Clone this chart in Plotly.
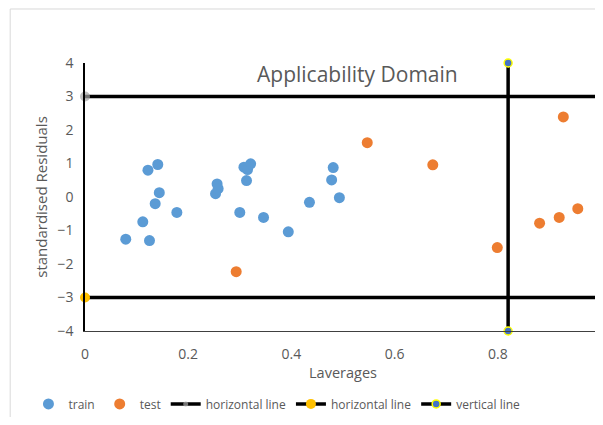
import plotly.graph_objects as go

train_x = [0.079, 0.112, 0.125, 0.136, 0.144, 0.178, 0.253, 0.300, 0.346, 0.394,
           0.122, 0.141, 0.256, 0.258, 0.308, 0.315, 0.321, 0.313, 0.481, 0.478,
           0.493, 0.435]
train_y = [-1.26, -0.74, -1.30, -0.20, 0.13, -0.46, 0.10, -0.46, -0.61, -1.04,
           0.80, 0.97, 0.39, 0.25, 0.89, 0.82, 0.99, 0.49, 0.88, 0.51,
           -0.02, -0.16]

test_x = [0.293, 0.547, 0.674, 0.927, 0.799, 0.881, 0.919, 0.955]
test_y = [-2.23, 1.62, 0.96, 2.39, -1.51, -0.78, -0.61, -0.35]

h_upper_x = [0, 1]
h_upper_y = [3, 3]
h_lower_x = [0, 1]
h_lower_y = [-3, -3]
v_x = [0.82, 0.82]
v_y = [4, -4]

grey_text = "#595959"
font_family = "Open Sans, Liberation Sans, Arial"

fig = go.Figure()
fig.add_trace(go.Scatter(x=train_x, y=train_y, mode="markers", name="train",
                         marker=dict(color="#5B9BD5", size=11, line=dict(width=0))))
fig.add_trace(go.Scatter(x=test_x, y=test_y, mode="markers", name="test",
                         marker=dict(color="#ED7D31", size=11, line=dict(width=0))))
fig.add_trace(go.Scatter(x=h_upper_x, y=h_upper_y, mode="lines+markers", name="horizontal line",
                         line=dict(color="black", width=3.5),
                         marker=dict(color="#A5A5A5", size=[10, 0], line=dict(width=0)), cliponaxis=False))
fig.add_trace(go.Scatter(x=h_lower_x, y=h_lower_y, mode="lines+markers", name="horizontal line",
                         line=dict(color="black", width=3.5),
                         marker=dict(color="#FFC000", size=10, line=dict(width=0)), cliponaxis=False))
fig.add_trace(go.Scatter(x=v_x, y=v_y, mode="lines+markers", name="vertical line",
                         line=dict(color="black", width=3.5),
                         marker=dict(color="#4472C4", size=8, line=dict(color="#FFFF00", width=1.5)),
                         cliponaxis=False))

fig.update_layout(
    width=595, height=409,
    margin=dict(l=77, r=2, t=55, b=86, autoexpand=False),
    paper_bgcolor="white", plot_bgcolor="white",
    font=dict(family=font_family, color=grey_text, size=13),
    showlegend=True,
    legend=dict(orientation="h", x=0.372, xanchor="center", y=-0.272, yanchor="middle",
                font=dict(size=12, color=grey_text), itemwidth=30, tracegroupgap=0),
    annotations=[dict(text="Applicability Domain", x=0.529, y=0.959, xref="paper", yref="paper",
                      showarrow=False, font=dict(size=21, color=grey_text),
                      xanchor="center", yanchor="middle")],
    shapes=[dict(type="rect", xref="paper", yref="paper", x0=-0.145, x1=1.3, y0=-0.5, y1=1.2015,
                 line=dict(color="#D9D9D9", width=1), layer="below")],
)
fig.update_xaxes(range=[0, 1], dtick=0.2, tick0=0, showgrid=False, zeroline=False,
                 showline=True, linecolor="#404040", linewidth=1, automargin=False,
                 ticks="", ticklabelstandoff=10, ticklabeloverflow="allow",
                 tickfont=dict(size=14, color=grey_text),
                 title=dict(text="Laverages", font=dict(size=14.5, color=grey_text), standoff=6))
fig.update_yaxes(range=[-4, 4], dtick=1, showgrid=False, zeroline=False,
                 showline=True, linecolor="black", linewidth=1.5, automargin=False,
                 ticks="", ticklabelstandoff=7, ticklabeloverflow="allow",
                 tickfont=dict(size=14, color=grey_text),
                 title=dict(text="standardised Residuals", font=dict(size=15, color=grey_text), standoff=6))

fig.write_html("out.html")
